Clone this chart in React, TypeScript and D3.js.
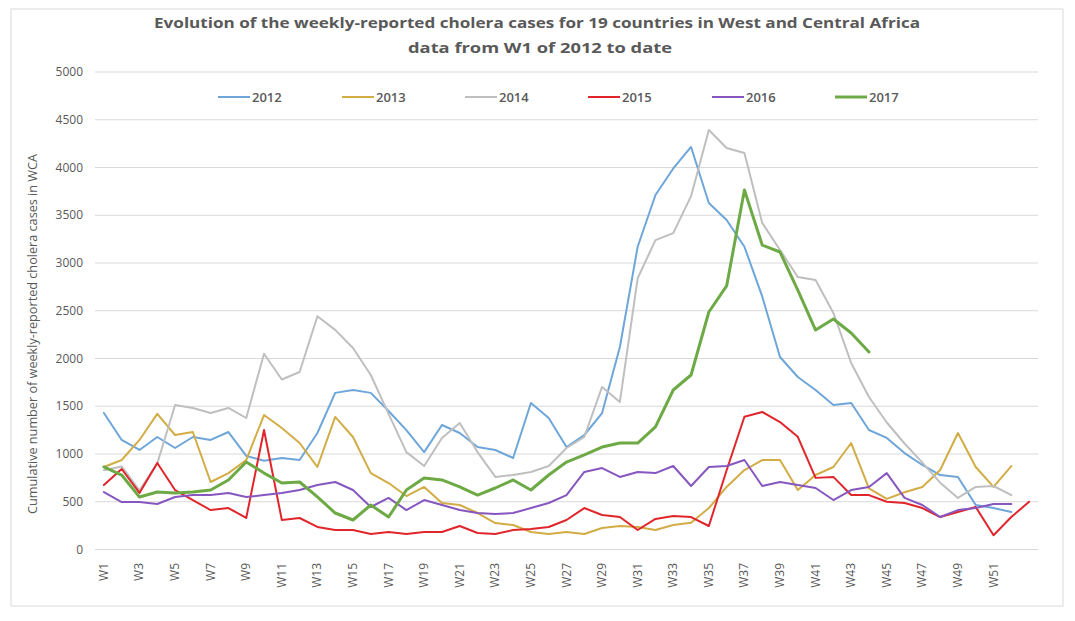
import React from "react";
import * as d3 from "d3";

const weeks: string[] = Array.from({ length: 53 }, (_, i) => `W${i + 1}`);
const yTicks: number[] = [0, 500, 1000, 1500, 2000, 2500, 3000, 3500, 4000, 4500, 5000];
const seriesNames: string[] = ["2012", "2013", "2014", "2015", "2016", "2017"];

const v2012: (number | null)[] = [1430, 1147, 1042, 1178, 1063, 1178, 1147, 1230, 980, 930, 958, 937, 1220, 1640, 1670, 1640, 1450, 1250, 1020, 1304, 1220, 1073, 1042, 958, 1534, 1377, 1073, 1199, 1429, 2120, 3170, 3712, 3990, 4215, 3628, 3450, 3170, 2650, 2016, 1806, 1670, 1513, 1534, 1251, 1168, 1010, 885, 780, 760, 466, 434, 393, null];
const v2013: (number | null)[] = [864, 937, 1147, 1420, 1199, 1230, 707, 800, 937, 1408, 1272, 1115, 864, 1388, 1178, 800, 696, 560, 655, 487, 466, 382, 277, 256, 183, 162, 183, 162, 225, 246, 236, 204, 256, 280, 434, 655, 832, 937, 937, 623, 780, 864, 1115, 640, 530, 600, 655, 832, 1220, 864, 655, 874, null];
const v2014: (number | null)[] = [830, 870, 620, 900, 1513, 1482, 1430, 1482, 1377, 2050, 1780, 1859, 2442, 2300, 2110, 1827, 1420, 1020, 874, 1168, 1325, 1020, 760, 780, 812, 874, 1063, 1178, 1702, 1545, 2840, 3240, 3313, 3700, 4393, 4204, 4152, 3420, 3136, 2853, 2822, 2477, 1953, 1597, 1330, 1110, 910, 700, 540, 655, 665, 570, null];
const v2015: (number | null)[] = [675, 843, 592, 906, 623, 518, 413, 434, 330, 1251, 309, 330, 236, 204, 204, 162, 183, 162, 183, 183, 246, 173, 162, 204, 215, 236, 309, 434, 361, 340, 204, 320, 350, 340, 246, 830, 1390, 1440, 1335, 1180, 750, 760, 570, 570, 500, 487, 434, 340, 393, 445, 150, 340, 500];
const v2016: (number | null)[] = [602, 497, 497, 476, 550, 570, 570, 592, 550, 570, 592, 623, 675, 707, 623, 445, 540, 413, 518, 466, 413, 382, 372, 382, 434, 487, 570, 812, 853, 760, 812, 800, 874, 665, 864, 874, 937, 665, 707, 675, 644, 518, 623, 655, 800, 540, 466, 340, 413, 434, 476, 476, null];
const v2017: (number | null)[] = [864, 780, 550, 602, 592, 602, 623, 728, 916, 800, 696, 707, 550, 382, 309, 466, 340, 623, 748, 728, 655, 570, 644, 728, 623, 780, 916, 990, 1073, 1115, 1115, 1283, 1670, 1827, 2487, 2760, 3764, 3188, 3115, 2717, 2298, 2414, 2267, 2068, null, null, null, null, null, null, null, null, null];

const seriesValues = [v2012, v2013, v2014, v2015, v2016, v2017];
const colors = ["#6EA6DA", "#D2AC45", "#BFBFBF", "#E0262B", "#8757C0", "#6DAA45"];
const widths = [2, 2, 2, 2, 2, 3];

export default function App() {
  const W = 1075, H = 621;
  const x = d3.scaleBand<string>().domain(weeks).range([95, 1038]).padding(0);
  const cx = (w: string) => (x(w) as number) + x.bandwidth() / 2;
  const y = d3.scaleLinear().domain([0, 5000]).range([549.5, 72]);
  const line = d3
    .line<number | null>()
    .defined((d) => d != null)
    .x((_, i) => cx(weeks[i]))
    .y((d) => y(d as number));

  const textColor = "#595959";
  const font = "'Open Sans', 'Liberation Sans', sans-serif";
  const legendX = [218, 342, 465, 588, 712, 835];

  return (
    <svg width={W} height={H} style={{ position: "absolute", left: 0, top: 0, background: "#fff" }} fontFamily={font}>
      <rect x={11} y={9} width={1052} height={597} fill="#fff" stroke="#d9d9d9" strokeWidth={1} />
      <text x={537} y={28} textAnchor="middle" fontSize={14} fontWeight={700} fill={textColor} textLength={766} lengthAdjust="spacingAndGlyphs">
        Evolution of the weekly-reported cholera cases for 19 countries in West and Central Africa
      </text>
      <text x={540} y={53} textAnchor="middle" fontSize={14} fontWeight={700} fill={textColor} textLength={264} lengthAdjust="spacingAndGlyphs">
        data from W1 of 2012 to date
      </text>
      {yTicks.map((t) => (
        <g key={t}>
          <line x1={95} x2={1038} y1={y(t)} y2={y(t)} stroke="#d9d9d9" strokeWidth={1} />
          <text x={83} y={y(t) + 4} textAnchor="end" fontSize={12} fill={textColor}>
            {t}
          </text>
        </g>
      ))}
      {weeks.map((w, i) =>
        i % 2 === 0 && i < 52 ? (
          <text key={w} transform={`translate(${cx(w) + 4},563) rotate(-90)`} textAnchor="end" fontSize={12} fill={textColor}>
            {w}
          </text>
        ) : null
      )}
      <text transform="translate(37,334) rotate(-90)" textAnchor="middle" fontSize={12} fill={textColor} textLength={360} lengthAdjust="spacingAndGlyphs">
        Cumulative number of weekly-reported cholera cases in WCA
      </text>
      {seriesValues.map((vals, k) => (
        <path key={seriesNames[k]} d={line(vals) || ""} fill="none" stroke={colors[k]} strokeWidth={widths[k]} strokeLinejoin="round" strokeLinecap="round" />
      ))}
      {seriesNames.map((n, k) => (
        <g key={n}>
          <line x1={legendX[k]} x2={legendX[k] + 32} y1={97} y2={97} stroke={colors[k]} strokeWidth={widths[k]} />
          <text x={legendX[k] + 34} y={101.5} fontSize={13} fill={textColor} fontWeight={600}>
            {n}
          </text>
        </g>
      ))}
    </svg>
  );
}
